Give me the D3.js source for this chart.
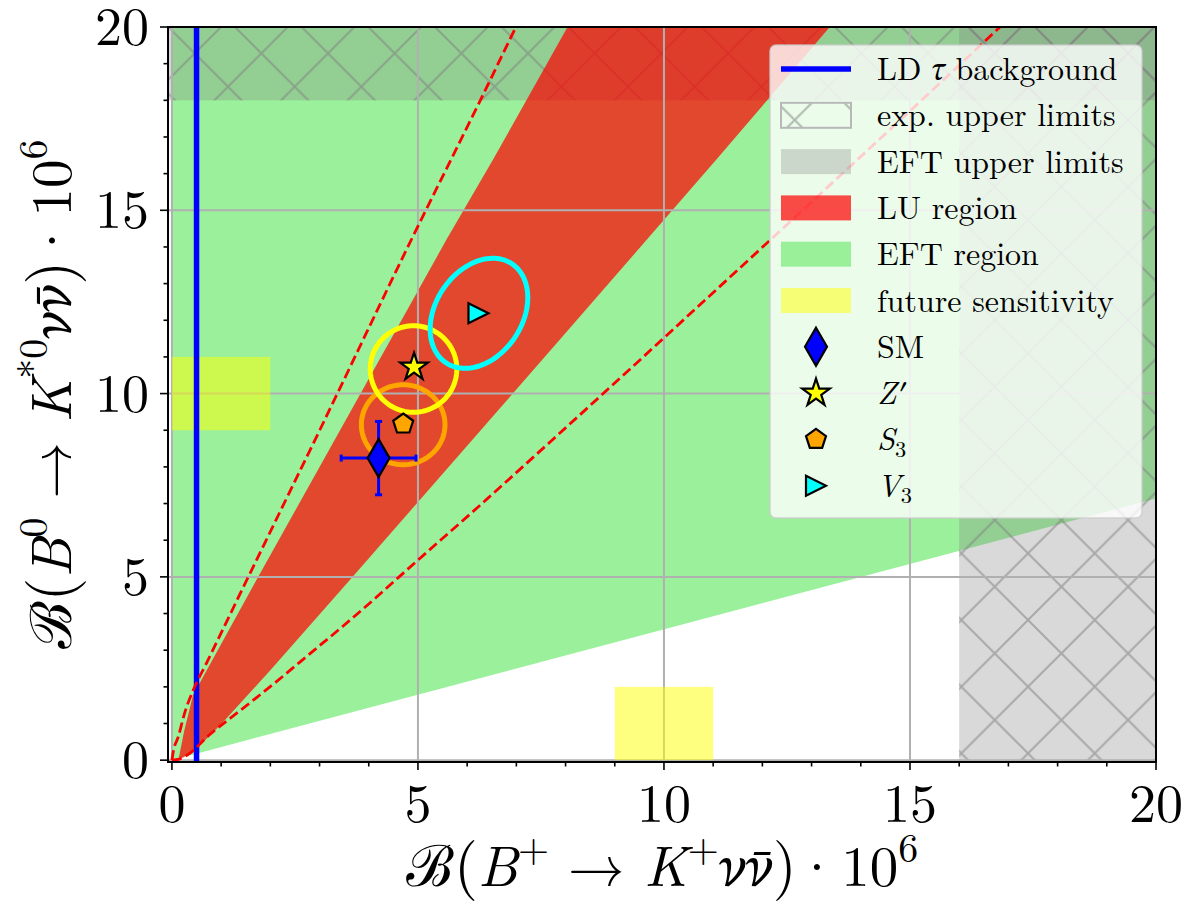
<!DOCTYPE html>
<html><head><meta charset="utf-8">
<script src="https://cdn.jsdelivr.net/npm/d3@7"></script>
<style>body{margin:0;background:#fff}text{white-space:pre}</style>
</head><body><svg id="chart" width="1184" height="902"></svg>
<script>
// ---------- data ----------
const xTicks = [0, 5, 10, 15, 20];
const yTicks = [0, 5, 10, 15, 20];
const minorTicks = d3.range(0, 21, 1);
const xDomain = [-0.08, 20];
const yDomain = [-0.05, 20];
const eftRegion = [[0, 0], [0, 20], [20, 20], [20, 7.14]];
const luLeftEdge = [[0.13, 0], [0.25, 0.8], [0.43, 1.78], [1.72, 4.92], [5.58, 14.2], [6.53, 16.39], [8.04, 20]];
const luRightEdge = [[0.13, 0], [0.47, 0.27], [1.0, 0.98], [2.0, 2.45], [3.62, 4.92], [7.89, 11.48], [11.07, 16.39], [13.37, 20]];
const dashLeft = [[0, 0], [0.03, 0.25], [0.13, 0.64], [0.25, 1.25], [0.43, 1.9], [0.7, 2.64], [1.48, 4.8], [3.01, 9.02], [4.87, 14.21], [6.26, 17.98], [6.99, 20]];
const dashRight = [[0, 0], [0.15, 0.03], [0.3, 0.13], [0.77, 0.7], [1.45, 1.42], [2.13, 2.15], [2.8, 2.9], [3.48, 3.66], [4.16, 4.45], [4.6, 4.98], [6.4, 7.12], [7.89, 8.93], [11.95, 13.93], [15.81, 18.72], [16.83, 20]];
const ldTauX = 0.5;
const upperLimitBands = [{x0: -0.08, x1: 20, y0: 18, y1: 20}, {x0: 16, x1: 20, y0: -0.05, y1: 20}];
const futureBoxes = [{x0: 0, x1: 2, y0: 9, y1: 11}, {x0: 9, x1: 11, y0: 0, y1: 2}];
const smPoint = {x: 4.2, y: 8.24, xerr: 0.76, yerr: 1.0};
const zPoint = {x: 4.92, y: 10.72};
const s3Point = {x: 4.70, y: 9.17};
const v3Point = {x: 6.23, y: 12.19};
const ellipses = [
  {name: "S3", cx: 4.70, cy: 9.15, ux: 0.85, uy: 0, vx: 0, vy: 1.09},
  {name: "Z", cx: 4.91, cy: 10.67, ux: 0.88, uy: 0, vx: 0, vy: 1.18},
  {name: "V3", cx: 6.24, cy: 12.19, ux: 0.674, uy: 1.347, vx: 0.728, vy: -0.663}
];
const legendLabels = [
  [["LD ", "r"], ["τ", "g"], [" background", "r"]],
  [["exp. upper limits", "r"]],
  [["EFT upper limits", "r"]],
  [["LU region", "r"]],
  [["EFT region", "r"]],
  [["future sensitivity", "r"]],
  [["SM", "r"]],
  [["Z", "i"], ["′", "g"]],
  [["S", "i"], ["3", "sub"]],
  [["V", "i"], ["3", "sub"]]
];
const xLabel = [["ℬ", "c"], ["(", "p"], ["B", "i"], ["+", "sup"], [" → ", "r"], ["K", "i"], ["+", "sup"], ["ν", "g"], ["ν̄", "g"], [")", "p"], ["·", "r", -2], ["10", "r", 2], ["6", "sup"]];
const yLabel = [["ℬ", "c"], ["(", "p"], ["B", "i"], ["0", "sup"], [" → ", "r"], ["K", "i"], ["*0", "sup"], ["ν", "g"], ["ν̄", "g"], [")", "p"], ["·", "r", -2], ["10", "r", 2], ["6", "sup"]];

// ---------- setup ----------
const FONT = '"Latin Modern Roman", "Liberation Serif", serif';
const GREEK = '"STIX Two Text", "Liberation Serif", serif';
const svg = d3.select("#chart");
const L = 168, R = 1156, T = 27, B = 762;
const x = d3.scaleLinear().domain(xDomain).range([L, R]);
const y = d3.scaleLinear().domain(yDomain).range([B, T]);
const defs = svg.append("defs");
defs.append("clipPath").attr("id", "clip").append("rect")
  .attr("x", L).attr("y", T).attr("width", R - L).attr("height", B - T);
const P = 66.67;
const pat = defs.append("pattern").attr("id", "hatch").attr("patternUnits", "userSpaceOnUse")
  .attr("x", 28).attr("y", 20).attr("width", P).attr("height", P);
pat.append("path").attr("d", `M${-P/2},${-P/2}L${1.5*P},${1.5*P}M${-P/2},${1.5*P}L${1.5*P},${-P/2}`)
  .attr("stroke", "#808080").attr("stroke-opacity", 0.55).attr("stroke-width", 2);

const g = svg.append("g").attr("clip-path", "url(#clip)");
const line = d3.line().x(d => x(d[0])).y(d => y(d[1]));

// EFT region
g.append("path").attr("d", line(eftRegion) + "Z").attr("fill", "#90ee90").attr("fill-opacity", 0.9);
// upper limit bands (gray + hatch)
upperLimitBands.forEach(b => {
  const r = () => g.append("rect").attr("x", x(b.x0)).attr("y", y(b.y1)).attr("width", x(b.x1) - x(b.x0)).attr("height", y(b.y0) - y(b.y1));
  r().attr("fill", "#808080").attr("fill-opacity", 0.3);
  r().attr("fill", "url(#hatch)");
});
// LU region
const luPoly = luLeftEdge.concat(luRightEdge.slice().reverse());
g.append("path").attr("d", line(luPoly) + "Z").attr("fill", "#ff0000").attr("fill-opacity", 0.7);

// grid
xTicks.forEach(v => g.append("line").attr("x1", x(v)).attr("x2", x(v)).attr("y1", T).attr("y2", B)
  .attr("stroke", "#b0b0b0").attr("stroke-width", 2));
yTicks.forEach(v => g.append("line").attr("y1", y(v)).attr("y2", y(v)).attr("x1", L).attr("x2", R)
  .attr("stroke", "#b0b0b0").attr("stroke-width", 2));

// future sensitivity
futureBoxes.forEach(b => g.append("rect").attr("x", x(b.x0)).attr("y", y(b.y1)).attr("width", x(b.x1) - x(b.x0))
  .attr("height", y(b.y0) - y(b.y1)).attr("fill", "#ffff00").attr("fill-opacity", 0.5));

// LD tau line
g.append("line").attr("x1", x(ldTauX)).attr("x2", x(ldTauX)).attr("y1", T).attr("y2", B)
  .attr("stroke", "#0000ff").attr("stroke-width", 5.5);

// dashed lines
const curve = d3.line().x(d => x(d[0])).y(d => y(d[1])).curve(d3.curveMonotoneX);
[dashLeft, dashRight].forEach(d => g.append("path").attr("d", curve(d)).attr("fill", "none")
  .attr("stroke", "#ff0000").attr("stroke-width", 2.8).attr("stroke-dasharray", "10,4.5"));

// ellipses
const ellColors = {S3: "#ffa500", Z: "#ffff00", V3: "#00ffff"};
ellipses.forEach(e => {
  const pts = d3.range(0, 121).map(i => {
    const t = i / 120 * 2 * Math.PI;
    return [e.cx + e.ux * Math.cos(t) + e.vx * Math.sin(t), e.cy + e.uy * Math.cos(t) + e.vy * Math.sin(t)];
  });
  g.append("path").attr("d", line(pts) + "Z").attr("fill", "none").attr("stroke", ellColors[e.name]).attr("stroke-width", 5);
});

// markers
function starPath(Rr) {
  const r = Rr * 0.382, p = [];
  for (let i = 0; i < 10; i++) {
    const a = -Math.PI / 2 + i * Math.PI / 5, rr = i % 2 ? r : Rr;
    p.push([rr * Math.cos(a), rr * Math.sin(a)]);
  }
  return "M" + p.map(q => q.join(",")).join("L") + "Z";
}
function polyPath(Rr, n) {
  const p = [];
  for (let i = 0; i < n; i++) { const a = -Math.PI / 2 + i * 2 * Math.PI / n; p.push([Rr * Math.cos(a), Rr * Math.sin(a)]); }
  return "M" + p.map(q => q.join(",")).join("L") + "Z";
}
const markerDefs = {
  SM: {d: "M0,-19L11,0L0,19L-11,0Z", fill: "#0000ff"},
  Z: {d: starPath(14.5), fill: "#ffff00"},
  S3: {d: polyPath(10.5, 5), fill: "#ffa500"},
  V3: {d: "M10,0L-10,-10L-10,10Z", fill: "#00ffff"}
};
function drawMarker(parent, key, px, py) {
  parent.append("path").attr("d", markerDefs[key].d).attr("transform", `translate(${px},${py})`)
    .attr("fill", markerDefs[key].fill).attr("stroke", "#000").attr("stroke-width", 2.2).attr("stroke-linejoin", "miter");
}
// SM error bars
const eb = svg.append("g").attr("stroke", "#0000ff").attr("stroke-width", 3);
eb.append("line").attr("x1", x(smPoint.x - smPoint.xerr)).attr("x2", x(smPoint.x + smPoint.xerr)).attr("y1", y(smPoint.y)).attr("y2", y(smPoint.y));
eb.append("line").attr("y1", y(smPoint.y - smPoint.yerr)).attr("y2", y(smPoint.y + smPoint.yerr)).attr("x1", x(smPoint.x)).attr("x2", x(smPoint.x));
[smPoint.x - smPoint.xerr, smPoint.x + smPoint.xerr].forEach(v => eb.append("line").attr("x1", x(v)).attr("x2", x(v)).attr("y1", y(smPoint.y) - 3.5).attr("y2", y(smPoint.y) + 3.5));
[smPoint.y - smPoint.yerr, smPoint.y + smPoint.yerr].forEach(v => eb.append("line").attr("y1", y(v)).attr("y2", y(v)).attr("x1", x(smPoint.x) - 3.5).attr("x2", x(smPoint.x) + 3.5));
drawMarker(svg, "SM", x(smPoint.x), y(smPoint.y));
drawMarker(svg, "Z", x(zPoint.x), y(zPoint.y));
drawMarker(svg, "S3", x(s3Point.x), y(s3Point.y));
drawMarker(svg, "V3", x(v3Point.x), y(v3Point.y));

// math text helper
function mathText(sel, parts, fs) {
  let shift = 0;
  sel.style("font-family", FONT);
  parts.forEach(([t, s, dx]) => {
    const ts = sel.append("tspan").text(t);
    let target = 0, size = fs, italic = false, fam = null;
    if (s === "sup") { target = -0.42 * fs; size = 0.7 * fs; }
    if (s === "sub") { target = 0.2 * fs; size = 0.7 * fs; }
    if (s === "i") italic = true;
    if (s === "g") { italic = true; fam = GREEK; }
    if (s === "c") { fam = '"Liberation Serif", serif'; }
    if (s === "p") { size = 1.08 * fs; }
    ts.attr("font-size", size).attr("font-style", italic ? "italic" : "normal");
    if (fam) ts.style("font-family", fam);
    if (dx) ts.attr("dx", dx);
    if (target !== shift) { ts.attr("dy", target - shift); shift = target; }
  });
}

// legend
const lg = svg.append("g");
lg.append("rect").attr("x", 770).attr("y", 45).attr("width", 372).attr("height", 473).attr("rx", 6)
  .attr("fill", "#fff").attr("fill-opacity", 0.8).attr("stroke", "#cccccc").attr("stroke-opacity", 0.8).attr("stroke-width", 1.5);
const rowY = i => 69 + i * 46.3;
const hx0 = 781, hw = 70, hh = 25;
lg.append("line").attr("x1", hx0).attr("x2", hx0 + hw).attr("y1", rowY(0)).attr("y2", rowY(0)).attr("stroke", "#0000ff").attr("stroke-width", 5.5);
lg.append("rect").attr("x", hx0).attr("y", rowY(1) - hh / 2).attr("width", hw).attr("height", hh)
  .attr("fill", "url(#hatch)").attr("stroke", "#b8b8b8").attr("stroke-width", 2);
lg.append("rect").attr("x", hx0).attr("y", rowY(2) - hh / 2).attr("width", hw).attr("height", hh).attr("fill", "#808080").attr("fill-opacity", 0.3);
lg.append("rect").attr("x", hx0).attr("y", rowY(3) - hh / 2).attr("width", hw).attr("height", hh).attr("fill", "#ff0000").attr("fill-opacity", 0.7);
lg.append("rect").attr("x", hx0).attr("y", rowY(4) - hh / 2).attr("width", hw).attr("height", hh).attr("fill", "#90ee90").attr("fill-opacity", 0.9);
lg.append("rect").attr("x", hx0).attr("y", rowY(5) - hh / 2).attr("width", hw).attr("height", hh).attr("fill", "#ffff00").attr("fill-opacity", 0.5);
["SM", "Z", "S3", "V3"].forEach((k, i) => drawMarker(lg, k, 816, rowY(6 + i)));
legendLabels.forEach((parts, i) => {
  const t = lg.append("text").attr("x", 877).attr("y", rowY(i) + 11).attr("fill", "#000");
  mathText(t, parts, 32);
});

// spines
svg.append("rect").attr("x", L).attr("y", T).attr("width", R - L).attr("height", B - T)
  .attr("fill", "none").attr("stroke", "#000").attr("stroke-width", 2);

// ticks
const ax = svg.append("g").attr("stroke", "#000").attr("stroke-width", 1.6);
minorTicks.forEach(v => {
  const len = xTicks.includes(v) ? 8 : 4.5;
  ax.append("line").attr("x1", x(v)).attr("x2", x(v)).attr("y1", B).attr("y2", B + len);
  ax.append("line").attr("y1", y(v)).attr("y2", y(v)).attr("x1", L).attr("x2", L - len);
});
xTicks.forEach(v => svg.append("text").attr("x", x(v)).attr("y", 822).attr("text-anchor", "middle")
  .style("font-family", FONT).attr("font-size", 54).text(v));
yTicks.forEach(v => svg.append("text").attr("x", 149).attr("y", y(v) + 18).attr("text-anchor", "end")
  .style("font-family", FONT).attr("font-size", 54).text(v));

// axis labels
const xl = svg.append("text").attr("x", (L + R) / 2).attr("y", 886).attr("text-anchor", "middle");
mathText(xl, xLabel, 57);
const yl = svg.append("text").attr("transform", `translate(71,${(T + B) / 2}) rotate(-90)`).attr("text-anchor", "middle");
mathText(yl, yLabel, 57);
</script></body></html>
